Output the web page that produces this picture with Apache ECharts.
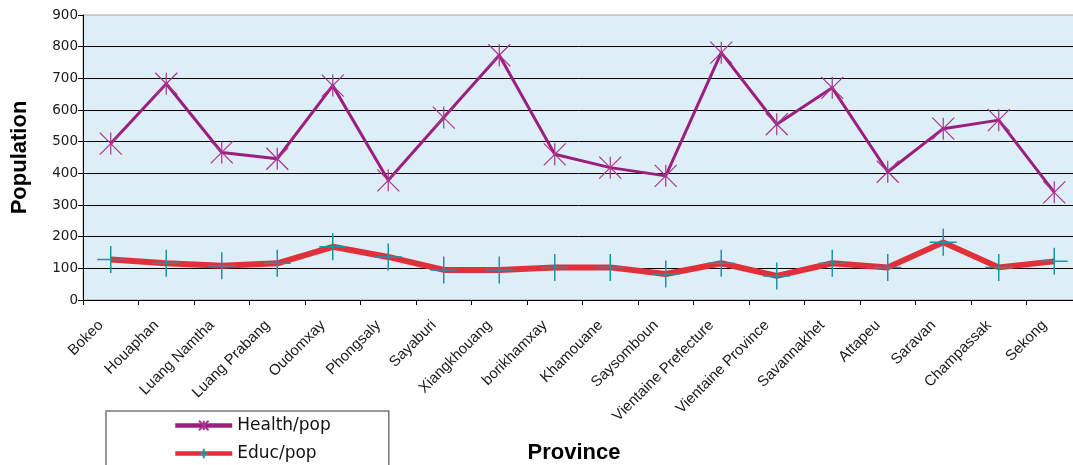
<!DOCTYPE html>
<html>
<head>
<meta charset="utf-8">
<title>Health/pop and Educ/pop by Province</title>
<script src="https://cdn.jsdelivr.net/npm/echarts@6/dist/echarts.min.js"></script>
<style>
  html, body { margin: 0; padding: 0; background: #ffffff; }
  #chart { width: 1073px; height: 465px; }
</style>
</head>
<body>
<div id="chart"></div>
<script>
// provinces (x axis)
const provinces = [
  'Bokeo', 'Houaphan', 'Luang Namtha', 'Luang Prabang', 'Oudomxay', 'Phongsaly',
  'Sayaburi', 'Xiangkhouang', 'borikhamxay', 'Khamouane', 'Saysomboun',
  'Vientaine Prefecture', 'Vientaine Province', 'Savannakhet', 'Attapeu',
  'Saravan', 'Champassak', 'Sekong'
];
// population per health / education unit
const healthPop = [494, 683, 466, 446, 677, 378, 576, 773, 460, 418, 392, 781, 555, 670, 405, 541, 568, 340];
const educPop = [128, 116, 108, 116, 168, 136, 95, 95, 103, 103, 82, 116, 76, 116, 103, 182, 103, 122];
const yTicks = [0, 100, 200, 300, 400, 500, 600, 700, 800, 900];

const chart = echarts.init(document.getElementById('chart'));

// asterisk (x + vertical bar) and plus markers, drawn as strokes
const starSymbol = 'path://M0,0L20,20M20,0L0,20M10,0L10,20';
const plusSymbol = 'path://M0,10L20,10M10,0L10,20';

const option = {
  animation: false,
  grid: {
    left: 83,
    right: -9, // plot runs past the right edge in the original
    top: 15,
    bottom: 165,
    outerBoundsMode: 'none',
    containLabel: false,
    show: true,
    backgroundColor: '#deeef6',
    borderColor: '#a6a6a6',
    borderWidth: 1
  },
  legend: {
    orient: 'vertical',
    left: 106,
    top: 411,
    height: 150, // box goes below the bottom edge, keep the items in one column
    padding: [6, 58, 40, 67],
    itemWidth: 57,
    itemHeight: 12,
    itemGap: 11,
    backgroundColor: '#ffffff',
    borderColor: '#777777',
    borderWidth: 1.5,
    lineStyle: { width: 4.5 },
    textStyle: { fontFamily: 'DejaVu Sans', fontSize: 17, color: '#111111' },
    data: ['Health/pop', 'Educ/pop']
  },
  xAxis: {
    type: 'category',
    data: provinces,
    boundaryGap: true,
    name: 'Province',
    nameLocation: 'middle',
    nameGap: 142,
    nameTextStyle: {
      fontFamily: 'Liberation Sans',
      fontWeight: 'bold',
      fontSize: 22,
      color: '#000000',
      padding: [0, 17, 0, 0]
    },
    axisLine: { lineStyle: { color: '#000000', width: 1 } },
    axisTick: { show: true, length: 5, alignWithLabel: false, lineStyle: { color: '#000000' } },
    axisLabel: {
      interval: 0,
      rotate: 45,
      margin: 13,
      padding: [0, 14, 0, 0],
      fontFamily: 'Liberation Sans',
      fontSize: 15,
      color: '#1a1a1a'
    },
    splitLine: { show: false }
  },
  yAxis: {
    type: 'value',
    min: yTicks[0],
    max: yTicks[yTicks.length - 1],
    interval: 100,
    name: 'Population',
    nameLocation: 'middle',
    nameGap: 52,
    nameTextStyle: {
      fontFamily: 'Liberation Sans',
      fontWeight: 'bold',
      fontSize: 22,
      color: '#000000'
    },
    axisLine: { show: true, lineStyle: { color: '#000000', width: 1 } },
    axisTick: { show: true, length: 5, lineStyle: { color: '#000000' } },
    axisLabel: {
      margin: 5,
      fontFamily: 'DejaVu Sans',
      fontSize: 13.5,
      color: '#1a1a1a'
    },
    splitLine: { show: true, showMaxLine: false, lineStyle: { color: '#000000', width: 1 } }
  },
  series: [
    {
      name: 'Health/pop',
      type: 'line',
      data: healthPop,
      symbol: starSymbol,
      symbolSize: 22,
      showAllSymbol: true,
      lineStyle: { color: '#9b1f7e', width: 3 },
      itemStyle: { color: '#a8358f', borderColor: '#a8358f', borderWidth: 1.2 },
      z: 3
    },
    {
      name: 'Educ/pop',
      type: 'line',
      data: educPop,
      symbol: plusSymbol,
      symbolSize: 27,
      showAllSymbol: true,
      lineStyle: { color: '#e0303a', width: 6 },
      itemStyle: { color: '#1796a8', borderColor: '#1796a8', borderWidth: 1.5 },
      z: 2
    }
  ]
};

chart.setOption(option);
</script>
</body>
</html>
